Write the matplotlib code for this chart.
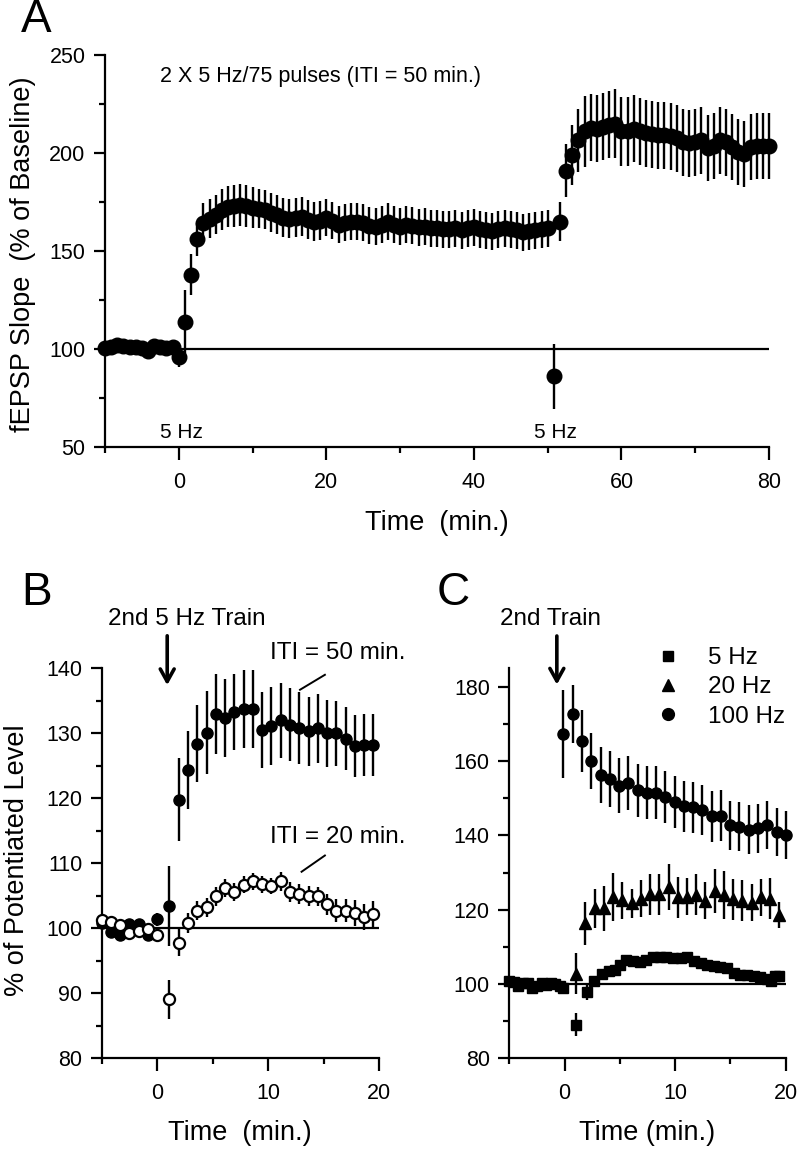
import numpy as np
import matplotlib
matplotlib.use('Agg')
import matplotlib.pyplot as plt
from matplotlib.lines import Line2D
from matplotlib.ticker import MultipleLocator

plt.rcParams['font.family'] = ['Liberation Sans', 'DejaVu Sans']

# ---------------- data ----------------
# Panel A: 2 x 5 Hz trains, ITI = 50 min
a_time = [-10.00, -9.17, -8.33, -7.50, -6.67, -5.83, -5.00, -4.17, -3.33, -2.50, -1.67, -0.83,
          0.00, 0.83, 1.67, 2.50, 3.33, 4.17, 5.00, 5.83, 6.67, 7.50, 8.33, 9.17, 10.00, 10.83,
          11.67, 12.50, 13.33, 14.17, 15.00, 15.83, 16.67, 17.50, 18.33, 19.17, 20.00, 20.83,
          21.67, 22.50, 23.33, 24.17, 25.00, 25.83, 26.67, 27.50, 28.33, 29.17, 30.00, 30.83,
          31.67, 32.50, 33.33, 34.17, 35.00, 35.83, 36.67, 37.50, 38.33, 39.17, 40.00, 40.83,
          41.67, 42.50, 43.33, 44.17, 45.00, 45.83, 46.67, 47.50, 48.33, 49.17, 50.00, 50.83,
          51.67, 52.50, 53.33, 54.17, 55.00, 55.83, 56.67, 57.50, 58.33, 59.17, 60.00, 60.83,
          61.67, 62.50, 63.33, 64.17, 65.00, 65.83, 66.67, 67.50, 68.33, 69.17, 70.00, 70.83,
          71.67, 72.50, 73.33, 74.17, 75.00, 75.83, 76.67, 77.50, 78.33, 79.17, 80.00]
a_mean = [100.5, 101, 102, 101.5, 101, 101, 100.5, 99, 101.5, 101, 100.5, 101, 96,
          114, 138, 156, 164.5,
          166.5, 168.5, 171, 172.5, 173, 173.5, 173, 172, 171.5, 171, 169.5, 168.5, 167, 166.5,
          167, 167.5, 166, 165, 165.5, 167, 165.5, 163.5, 164.5, 165, 165, 164.5, 163, 162.5,
          163.5, 165, 163.5, 162.5, 163.5, 163, 162, 162.5, 161.5, 161.5, 161, 161, 161.5, 160.5,
          161.5, 162, 161, 160.5, 160, 161, 161.5, 161, 160.5, 159.5, 160, 160.5, 161, 161.5,
          86, 165,
          191, 199, 206.5, 211, 213, 212.5, 213.5, 214.5, 215, 211, 211, 212.5, 211, 210, 209.5,
          209, 209, 208.5, 207.5, 205.5, 205, 205.5, 206.5, 202.5, 203.5, 206.5, 205.5, 203,
          200.5, 199.5, 203, 203.5, 203.5, 203.5]
a_sem = [1.5, 1.5, 1.5, 1.5, 1.5, 1.5, 1.5, 1.5, 1.5, 1.5, 1.5, 1.5, 5,
         16, 10.5, 8.5, 10,
         10, 10, 10.5, 10.5, 10.5, 10.5, 10.5, 10.5, 10, 10, 10, 10, 10, 10, 10, 10, 10, 10, 10,
         9.5, 9.5, 9.5, 9.5, 9.5, 9.5, 9.5, 9.5, 9.5, 9.5, 9.5, 9.5, 9.5, 9.5, 9.5, 9.5, 9.5,
         9.5, 9.5, 9.5, 9.5, 9.5, 9.5, 9.5, 9.5, 9.5, 9.5, 9.5, 9.5, 9.5, 9.5, 9.5, 9.5, 9.5,
         9.5, 9.5, 9.5,
         16.5, 10,
         13.5, 15.5, 16, 18, 17, 17, 17, 17, 17.5, 17.5, 17.5, 17, 17, 17, 17, 17, 17, 17, 17,
         17, 17, 17, 17, 17, 17, 17, 17, 17, 17, 17, 17, 17, 17, 17]

# Panel B: second 5 Hz train, ITI = 50 min (filled) vs ITI = 20 min (open)
b_time = [-5.00, -4.17, -3.33, -2.50, -1.67, -0.83, 0.00,
          1.10, 1.94, 2.77, 3.61, 4.44, 5.28, 6.11, 6.95, 7.78, 8.62, 9.45, 10.29, 11.12,
          11.96, 12.79, 13.63, 14.46, 15.30, 16.13, 16.97, 17.80, 18.64, 19.47]
b50_mean = [100.8, 99.5, 99, 100.7, 100.7, 99, 101.4,
            103.4, 119.8, 124.3, 128.4, 130.1, 133, 132.3, 133.3, 133.7, 133.7, 130.5, 131.1,
            132, 131.3, 130.8, 130.3, 130.8, 130, 130, 129.2, 128, 128.2, 128.2]
b50_sem = [0.8, 0.8, 0.8, 0.8, 0.8, 0.8, 1.0,
           6.2, 6.4, 6.0, 5.9, 6.4, 6.2, 6.0, 5.8, 6.0, 6.0, 5.8, 6.0, 5.8, 5.6, 5.5, 5.3, 5.3,
           5.2, 5.0, 4.9, 4.8, 4.7, 4.8]
b20_mean = [101.3, 101, 100.5, 99.2, 99.6, 99.9, 98.9,
            89.1, 97.8, 100.8, 102.7, 103.2, 104.9, 106.2, 105.6, 106.7, 107.2, 106.8, 106.5,
            107.2, 105.6, 105.3, 105, 104.9, 103.7, 102.7, 102.7, 102.4, 101.7, 102.2]
b20_sem = [0.8, 0.8, 0.8, 0.8, 0.8, 0.8, 0.8,
           3.0, 2.1, 1.5, 1.5, 1.5, 1.4, 1.4, 1.4, 1.3, 1.3, 1.3, 1.3, 1.5, 1.5, 1.5, 1.5, 1.5,
           1.6, 1.8, 1.8, 2.0, 2.0, 2.0]

# Panel C: second train at 5, 20 and 100 Hz
c100_time = [-0.10, 0.74, 1.58, 2.41, 3.25, 4.09, 4.93, 5.77, 6.60, 7.44, 8.28, 9.12, 9.96,
             10.79, 11.63, 12.47, 13.31, 14.15, 14.98, 15.82, 16.66, 17.50, 18.34, 19.17, 20.01]
c100_mean = [167.3, 172.7, 165.5, 160.1, 156.3, 155.1, 153.4, 154.2, 152.1, 151.5, 151.5, 150.4,
             148.9, 147.8, 147.6, 146.9, 145.1, 145.3, 142.7, 142.4, 141.5, 141.9, 142.8, 141,
             140.1]
c100_sem = [11.8, 7.8, 8.3, 7.6, 7.6, 7.5, 7.4, 7.3, 7.2, 7.2, 7.1, 7.0, 7.0, 6.9, 6.9, 6.8,
            6.8, 6.8, 6.7, 6.7, 6.6, 6.6, 6.5, 6.5, 6.4]
c20_time = [1.05, 1.89, 2.72, 3.56, 4.39, 5.23, 6.06, 6.90, 7.73, 8.57, 9.40, 10.24, 11.07,
            11.91, 12.74, 13.58, 14.41, 15.25, 16.08, 16.92, 17.75, 18.59, 19.42]
c20_mean = [102.8, 116.3, 120.4, 120.4, 123.5, 122.6, 121.7, 123, 124.2, 124.2, 126.2, 123.3,
            123.5, 124, 122.4, 125.1, 124, 122.8, 122.4, 121.9, 123.3, 123, 118.6]
c20_sem = [5.5, 5.8, 5.2, 6.0, 6.5, 5.0, 4.0, 5.0, 5.5, 5.5, 6.2, 5.5, 5.0, 5.5, 5.0, 6.0, 6.5,
           5.5, 5.5, 5.0, 5.0, 5.5, 3.6]
c5_time = [-5.00, -4.58, -4.17, -3.75, -3.33, -2.92, -2.50, -2.08, -1.67, -1.25, -0.83, -0.42,
           -0.10, 1.05, 2.00, 2.70, 3.40, 4.00, 4.60, 5.00, 5.60, 6.20, 6.80, 7.40, 8.00, 8.60,
           9.20, 9.80, 10.50, 11.10, 11.70, 12.30, 12.90, 13.50, 14.10, 14.70, 15.30, 15.90,
           16.50, 17.10, 17.70, 18.30, 18.70, 19.00, 19.40]
c5_mean = [100.7, 100.5, 99.6, 100.3, 100.4, 98.9, 99.6, 100.3, 99.8, 100.3, 100.1, 99.5, 98.8,
           89.1, 97.8, 100.7, 102.8, 103.4, 103.7, 105.2, 106.5, 106.1, 105.8, 106.5, 107.2,
           107.4, 107.2, 107, 107, 107.4, 106.1, 105.6, 105.2, 104.9, 104.7, 104.3, 103.1, 102.5,
           102.5, 102.2, 101.9, 101.3, 100.7, 102.1, 102.2]
c5_sem = [0.8, 0.8, 0.8, 0.8, 0.8, 0.8, 0.8, 0.8, 0.8, 0.8, 0.8, 0.8, 0.8,
          3.1, 2.2, 1.2, 1.0, 1.0, 1.0, 1.0, 1.0, 1.0, 1.0, 1.0, 1.0, 1.0, 1.0, 1.0, 1.0, 1.0,
          1.0, 1.0, 1.0, 1.0, 1.0, 1.0, 1.0, 1.0, 1.0, 1.0, 1.0, 1.2, 1.4, 1.2, 1.2]
legend_labels = ['5 Hz', '20 Hz', '100 Hz']

BASELINE = 100

# ---------------- figure ----------------
W, H = 800, 1153
fig = plt.figure(figsize=(8, 11.53), dpi=100)


def fx(px):
    return px / W


def fy(py):
    return 1 - py / H


def axes_px(l, t, r, b):
    return fig.add_axes([fx(l), fy(b), (r - l) / W, (b - t) / H])


def style(ax, xmaj, xmin, ymaj, ymin, xlim, ylim):
    for s in ['top', 'right']:
        ax.spines[s].set_visible(False)
    for s in ['left', 'bottom']:
        ax.spines[s].set_linewidth(1.6)
    ax.set_xlim(*xlim)
    ax.set_ylim(*ylim)
    ax.xaxis.set_major_locator(MultipleLocator(xmaj))
    ax.xaxis.set_minor_locator(MultipleLocator(xmin))
    ax.yaxis.set_major_locator(MultipleLocator(ymaj))
    ax.yaxis.set_minor_locator(MultipleLocator(ymin))
    ax.tick_params(which='both', direction='out', width=1.6, labelsize=15.5)
    ax.tick_params(axis='x', which='major', length=9, pad=9)
    ax.tick_params(axis='x', which='minor', length=4.5)
    ax.tick_params(axis='y', which='major', length=8, pad=6)
    ax.tick_params(axis='y', which='minor', length=4)


def eb(ax, t, m, e, **kw):
    c = ax.errorbar(t, m, yerr=e, fmt=kw.pop('fmt', 'o'), color='k', ecolor='k',
                    elinewidth=1.7, capsize=0, **kw)
    c[0].set_clip_on(False)
    for ln in c[2]:
        ln.set_clip_on(False)
    return c


ARROW = dict(arrowstyle='->, head_length=0.9, head_width=0.5', lw=2.6, color='k',
             shrinkA=0, shrinkB=0)

# ---- Panel A ----
axA = axes_px(105, 55, 769, 447)
style(axA, 20, 10, 50, 25, (-10, 80), (50, 250))
axA.hlines(BASELINE, 0, 80, color='k', lw=1.6)
eb(axA, a_time, a_mean, a_sem, ms=10.5, zorder=3)
axA.text(-2.5, 239, '2 X 5 Hz/75 pulses (ITI = 50 min.)', fontsize=15.5, ha='left', va='center')
axA.text(0.4, 57.5, '5 Hz', fontsize=15, ha='center', va='center')
axA.text(51.0, 57.5, '5 Hz', fontsize=15, ha='center', va='center')
fig.text(fx(23), fy(254), 'fEPSP Slope  (% of Baseline)', rotation=90, fontsize=19.5,
         ha='center', va='center')
fig.text(fx(437), fy(523), 'Time  (min.)', fontsize=19.5, ha='center', va='center')
fig.text(fx(36), fy(20), 'A', fontsize=33, ha='center', va='center')

# ---- Panel B ----
axB = axes_px(101.7, 668.3, 379.3, 1058.3)
style(axB, 10, 5, 10, 5, (-5, 20), (80, 140))
axB.hlines(BASELINE, -5, 20, color='k', lw=1.6)
eb(axB, b_time, b50_mean, b50_sem, ms=8, zorder=3)
eb(axB, b_time, b20_mean, b20_sem, ms=8, mfc='white', mec='k', mew=1.6, zorder=4)
axB.annotate('', xy=(0.9, 137.4), xytext=(0.9, 145.0), arrowprops=ARROW,
             annotation_clip=False)
axB.text(10.15, 142.4, 'ITI = 50 min.', fontsize=17.5, ha='left', va='center', clip_on=False)
axB.plot([12.86, 15.1], [136.7, 139.0], color='k', lw=1.4)
axB.text(10.15, 114.0, 'ITI = 20 min.', fontsize=17.5, ha='left', va='center')
axB.plot([13.0, 15.1], [108.7, 111.2], color='k', lw=1.4)
fig.text(fx(187), fy(619), '2nd 5 Hz Train', fontsize=17.5, ha='center', va='center')
fig.text(fx(17), fy(860), '% of Potentiated Level', rotation=90, fontsize=19.5,
         ha='center', va='center')
fig.text(fx(239.5), fy(1133), 'Time  (min.)', fontsize=19.5, ha='center', va='center')
fig.text(fx(37), fy(593), 'B', fontsize=33, ha='center', va='center')

# ---- Panel C ----
axC = axes_px(509.3, 668.3, 785.7, 1058.3)
style(axC, 10, 5, 20, 10, (-5, 20), (80, 185))
axC.hlines(BASELINE, -5, 20, color='k', lw=1.6)
eb(axC, c100_time, c100_mean, c100_sem, ms=8, zorder=3)
eb(axC, c20_time, c20_mean, c20_sem, fmt='^', ms=8.5, zorder=3)
eb(axC, c5_time, c5_mean, c5_sem, fmt='s', ms=7, zorder=4)
axC.annotate('', xy=(-0.7, 180.6), xytext=(-0.7, 193.7), arrowprops=ARROW,
             annotation_clip=False)
handles = [Line2D([], [], ls='none', marker='s', ms=7, color='k'),
           Line2D([], [], ls='none', marker='^', ms=8.5, color='k'),
           Line2D([], [], ls='none', marker='o', ms=8.5, color='k')]
fig.legend(handles, legend_labels, loc='upper left', bbox_to_anchor=(fx(656), fy(647)),
           frameon=False, fontsize=17.5, handlelength=1.0, handletextpad=1.15,
           labelspacing=0.3, borderpad=0, borderaxespad=0, numpoints=1)
fig.text(fx(550.8), fy(619), '2nd Train', fontsize=17.5, ha='center', va='center')
fig.text(fx(647.5), fy(1133), 'Time (min.)', fontsize=19.5, ha='center', va='center')
fig.text(fx(453), fy(593), 'C', fontsize=33, ha='center', va='center')

fig.savefig('out.png', dpi=100)
